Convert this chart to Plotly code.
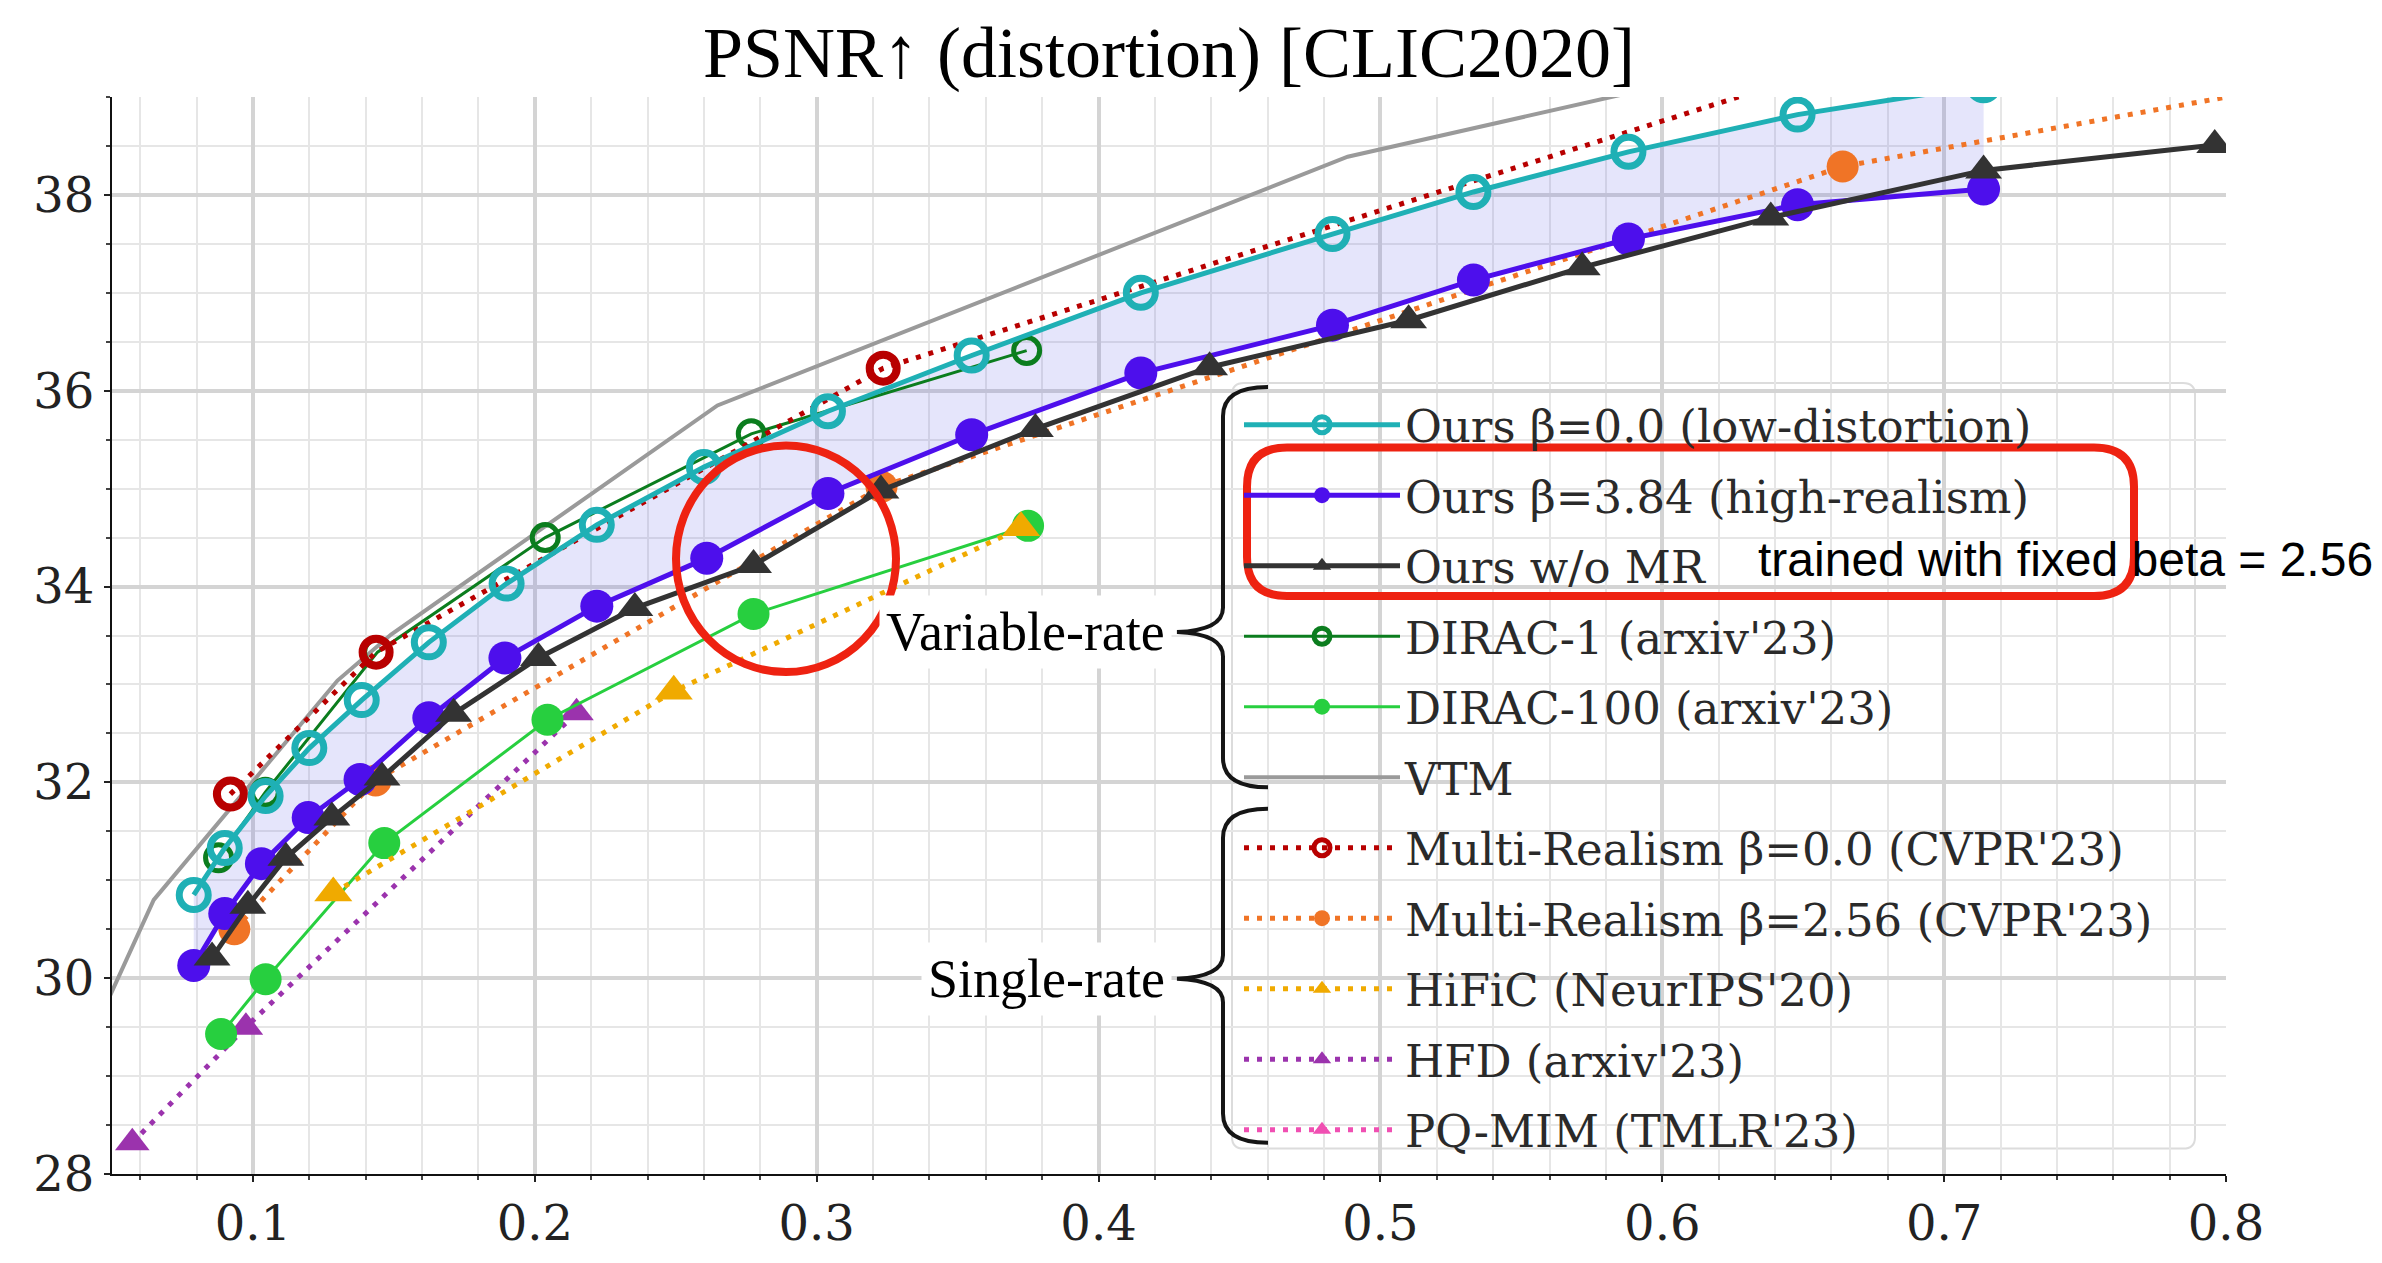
import plotly.graph_objects as go

# ---------------- data (bpp, PSNR dB) ----------------
ours_b0_x = [0.079, 0.090, 0.1045, 0.120, 0.1386, 0.1624, 0.190, 0.222, 0.260, 0.304, 0.355, 0.415, 0.483, 0.533, 0.588, 0.648, 0.714]
ours_b0_y = [30.85, 31.33, 31.86, 32.35, 32.84, 33.43, 34.03, 34.63, 35.22, 35.79, 36.36, 37.00, 37.60, 38.03, 38.44, 38.82, 39.12]

ours_b384_x = [0.079, 0.090, 0.103, 0.1196, 0.138, 0.1624, 0.1894, 0.222, 0.261, 0.304, 0.355, 0.415, 0.483, 0.533, 0.588, 0.648, 0.714]
ours_b384_y = [30.13, 30.66, 31.17, 31.64, 32.03, 32.66, 33.27, 33.80, 34.29, 34.95, 35.55, 36.18, 36.67, 37.13, 37.55, 37.90, 38.06]

ours_womr_x = [0.0855, 0.0982, 0.1117, 0.128, 0.1458, 0.1712, 0.2013, 0.2355, 0.2776, 0.3228, 0.3776, 0.4394, 0.510, 0.5716, 0.6385, 0.714, 0.796]
ours_womr_y = [30.21, 30.74, 31.23, 31.64, 32.05, 32.70, 33.27, 33.78, 34.22, 34.98, 35.61, 36.24, 36.72, 37.26, 37.77, 38.25, 38.51]

dirac1_x = [0.0878, 0.1044, 0.1442, 0.2037, 0.2768, 0.3745]
dirac1_y = [31.23, 31.90, 33.33, 34.50, 35.56, 36.41]

dirac100_x = [0.0887, 0.1045, 0.1466, 0.2045, 0.2776, 0.3750]
dirac100_y = [29.43, 29.99, 31.38, 32.64, 33.72, 34.62]

vtm_x = [0.045, 0.0648, 0.130, 0.149, 0.2648, 0.4884, 0.70]
vtm_y = [29.55, 30.80, 33.04, 33.51, 35.85, 38.39, 39.77]

mr0_x = [0.0920, 0.1437, 0.3236, 0.72]
mr0_y = [31.88, 33.33, 36.23, 39.85]

mr256_x = [0.0934, 0.1435, 0.323, 0.664, 0.90]
mr256_y = [30.50, 32.02, 35.02, 38.29, 39.52]

hific_x = [0.1285, 0.2493, 0.3725]
hific_y = [30.87, 32.93, 34.60]

hfd_x = [0.0572, 0.0975, 0.2148]
hfd_y = [28.32, 29.50, 32.71]

pqmim_x = [None]   # no PQ-MIM points fall inside the plotted range
pqmim_y = [None]

names = ["Ours β=0.0 (low-distortion)", "Ours β=3.84 (high-realism)", "Ours w/o MR",
         "DIRAC-1 (arxiv'23)", "DIRAC-100 (arxiv'23)", "VTM",
         "Multi-Realism β=0.0 (CVPR'23)", "Multi-Realism β=2.56 (CVPR'23)",
         "HiFiC (NeurIPS'20)", "HFD (arxiv'23)", "PQ-MIM (TMLR'23)"]

x_ticks = [0.1, 0.2, 0.3, 0.4, 0.5, 0.6, 0.7, 0.8]
y_ticks = [28, 30, 32, 34, 36, 38]

# ---------------- layout geometry (pixels) ----------------
W, H = 2382, 1263
L, R, T, B = 112, 2226, 97, 1200
PW, PH = R - L, B - T


def px(x):
    return (x - L) / PW


def py(y):
    return (B - y) / PH


def path(cmds):
    out = []
    for c in cmds:
        if isinstance(c, str):
            out.append(c)
        else:
            out.append("%.5f,%.5f" % (px(c[0]), py(c[1])))
    return " ".join(out)


def rounded_rect(x0, y0, x1, y1, r):
    return path(["M", (x0 + r, y0), "L", (x1 - r, y0), "Q", (x1, y0), (x1, y0 + r),
                 "L", (x1, y1 - r), "Q", (x1, y1), (x1 - r, y1), "L", (x0 + r, y1),
                 "Q", (x0, y1), (x0, y1 - r), "L", (x0, y0 + r), "Q", (x0, y0), (x0 + r, y0), "Z"])


DOT = "5px,8px"

fig = go.Figure()

# shaded area between the two "Ours" curves
fig.add_trace(go.Scatter(
    x=ours_b0_x + ours_b384_x[::-1], y=ours_b0_y + ours_b384_y[::-1],
    fill="toself", fillcolor="rgba(95,95,230,0.16)", mode="none",
    showlegend=False, hoverinfo="skip"))


def add(name, x, y, color, rank, lw, dash="solid", symbol=None, size=0, mlw=0):
    mode = "lines+markers" if symbol else "lines"
    marker = None
    if symbol:
        marker = dict(symbol=symbol, size=size, color=color,
                      line=dict(width=mlw, color=color))
    fig.add_trace(go.Scatter(
        x=x, y=y, name=name, mode=mode,
        line=dict(color=color, width=lw, dash=dash),
        marker=marker, legendrank=rank, legendgroup="g%d" % rank))


add(names[5], vtm_x, vtm_y, "#9a9a9a", 6, 4)
add(names[9], hfd_x, hfd_y, "#9b33ad", 10, 5, DOT, "triangle-up", 30)
add(names[10], pqmim_x, pqmim_y, "#f04fb2", 11, 5, DOT, "triangle-up", 30)
add(names[4], dirac100_x, dirac100_y, "#27cf3f", 5, 3, "solid", "circle", 32)
add(names[8], hific_x, hific_y, "#f0aa00", 9, 5, DOT, "triangle-up", 33)
add(names[3], dirac1_x, dirac1_y, "#0b7d1e", 4, 3, "solid", "circle-open", 26, 5)
add(names[6], mr0_x, mr0_y, "#b80000", 7, 5, DOT, "circle-open", 27, 8)
add(names[7], mr256_x, mr256_y, "#f07426", 8, 5, DOT, "circle", 32)
add(names[1], ours_b384_x, ours_b384_y, "#4d0fec", 2, 5, "solid", "circle", 33)
add(names[2], ours_womr_x, ours_womr_y, "#333333", 3, 5, "solid", "triangle-up", 32)
add(names[0], ours_b0_x, ours_b0_y, "#1fb0b5", 1, 5, "solid", "circle-open", 29, 7)

# ---------------- shapes: legend box, braces and red highlights ----------------
brace_col = "#151515"
brace1 = path(["M", (1268, 394), "Q", (1223, 394), (1223, 424), "L", (1223, 620),
               "Q", (1223, 643), (1177, 645), "Q", (1223, 647), (1223, 670),
               "L", (1223, 774), "Q", (1223, 804), (1268, 804)])
brace2 = path(["M", (1268, 826), "Q", (1223, 826), (1223, 856), "L", (1223, 976),
               "Q", (1223, 998), (1177, 1000), "Q", (1223, 1002), (1223, 1024),
               "L", (1223, 1138), "Q", (1223, 1168), (1268, 1168)])

shapes = [
    dict(type="path", xref="paper", yref="paper", path=rounded_rect(1232, 390, 2195, 1174, 12),
         fillcolor="rgba(255,255,255,0.82)", line=dict(color="#dcdcdc", width=2), layer="between"),
    dict(type="path", xref="paper", yref="paper", path=brace1,
         line=dict(color=brace_col, width=4), layer="above"),
    dict(type="path", xref="paper", yref="paper", path=brace2,
         line=dict(color=brace_col, width=4), layer="above"),
    dict(type="circle", xref="paper", yref="paper",
         x0=px(676), x1=px(896), y0=py(686), y1=py(454),
         line=dict(color="#ee2211", width=8), layer="above"),
    dict(type="path", xref="paper", yref="paper", path=rounded_rect(1247, 456, 2134, 608, 40),
         line=dict(color="#ee2211", width=8), layer="above"),
]

annotations = [
    dict(text="Variable-rate", x=px(1172), y=py(645), xref="paper", yref="paper",
         xanchor="right", yanchor="middle", showarrow=False, bgcolor="white", borderpad=6,
         font=dict(family="Liberation Serif, Times New Roman, serif", size=54, color="#000")),
    dict(text="Single-rate", x=px(1172), y=py(1000), xref="paper", yref="paper",
         xanchor="right", yanchor="middle", showarrow=False, bgcolor="white", borderpad=6,
         font=dict(family="Liberation Serif, Times New Roman, serif", size=54, color="#000")),
    dict(text="trained with fixed beta = 2.56", x=px(1756), y=py(571), xref="paper", yref="paper",
         xanchor="left", yanchor="middle", showarrow=False,
         font=dict(family="Liberation Sans, Arial, sans-serif", size=48, color="#000")),
]

axis_font = dict(family="DejaVu Serif, serif", size=48, color="#222")

fig.update_layout(
    width=W, height=H,
    margin=dict(l=L, r=W - R, t=T, b=H - B, pad=0),
    paper_bgcolor="white", plot_bgcolor="white",
    title=dict(text="PSNR↑ (distortion) [CLIC2020]", x=px((L + R) / 2), xref="paper",
               xanchor="center", y=1 - 52 / H, yref="container", yanchor="middle",
               font=dict(family="Liberation Serif, Times New Roman, serif", size=72, color="#000")),
    xaxis=dict(range=[0.05, 0.8], tickvals=x_ticks, ticktext=["%.1f" % v for v in x_ticks],
               showgrid=True, gridcolor="#d4d4d4", gridwidth=4,
               showline=True, linecolor="#111", linewidth=2, mirror=False,
               ticks="outside", ticklen=6, tickwidth=2, tickcolor="#222",
               tickfont=axis_font, zeroline=False,
               minor=dict(dtick=0.02, tick0=0, showgrid=True, gridcolor="#e6e6e6", gridwidth=2,
                          ticks="outside", ticklen=4, tickcolor="#444")),
    yaxis=dict(range=[28, 39], tickvals=y_ticks, ticktext=[str(v) for v in y_ticks],
               showgrid=True, gridcolor="#d4d4d4", gridwidth=4,
               showline=True, linecolor="#111", linewidth=2, mirror=False,
               ticks="outside", ticklen=6, tickwidth=2, tickcolor="#222",
               tickfont=axis_font, zeroline=False,
               minor=dict(dtick=0.5, tick0=0, showgrid=True, gridcolor="#e6e6e6", gridwidth=2,
                          ticks="outside", ticklen=4, tickcolor="#444")),
    legend=dict(x=px(1239), y=py(396), xanchor="left", yanchor="top",
                bgcolor="rgba(0,0,0,0)", borderwidth=0,
                font=dict(family="DejaVu Serif, serif", size=45, color="#2a2a2a"),
                itemwidth=156, tracegroupgap=9, traceorder="grouped", itemsizing="trace"),
    shapes=shapes,
    annotations=annotations,
    showlegend=True,
)

fig.write_html("out.html")
